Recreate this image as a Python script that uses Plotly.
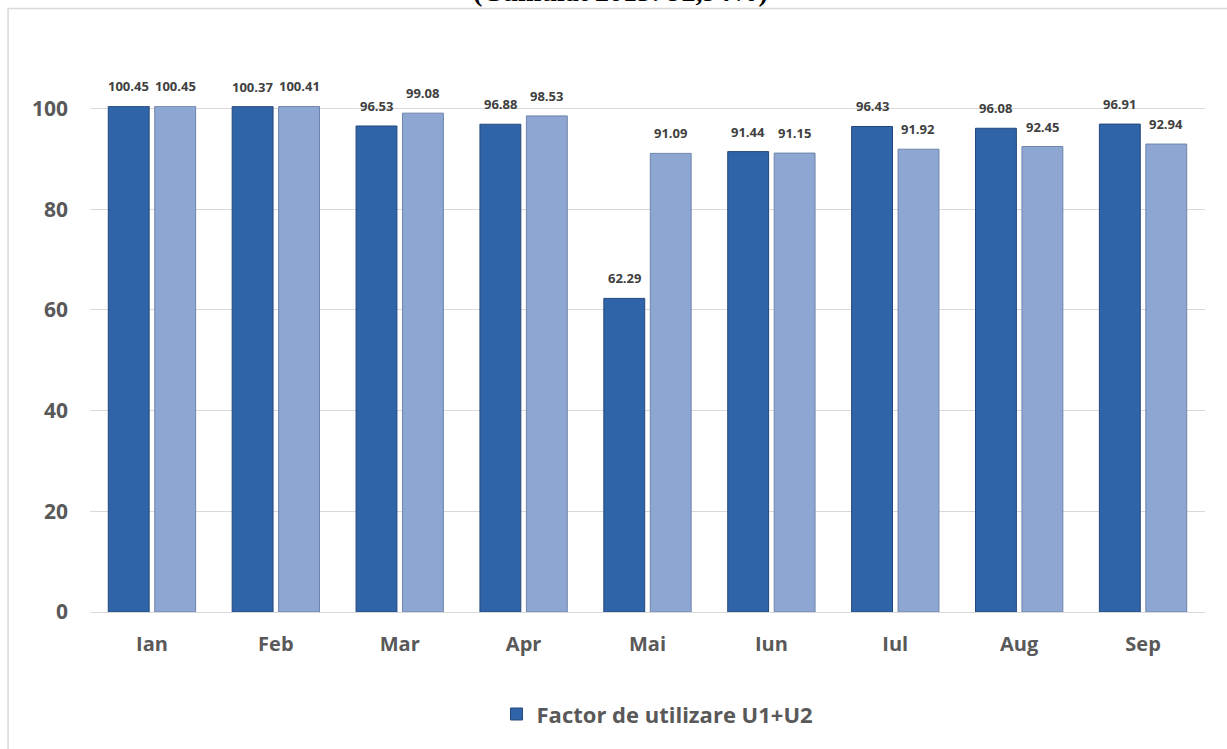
"""Factor de utilizare U1+U2 - bar chart by month."""
import plotly.graph_objects as go

luni = ['Ian', 'Feb', 'Mar', 'Apr', 'Mai', 'Iun', 'Iul', 'Aug', 'Sep']
factor_lunar = [100.45, 100.37, 96.53, 96.88, 62.29, 91.44, 96.43, 96.08, 96.91]
factor_cumulat = [100.45, 100.41, 99.08, 98.53, 91.09, 91.15, 91.92, 92.45, 92.94]
y_ticks = [0, 20, 40, 60, 80, 100]

FONT = 'Open Sans, Lato, sans-serif'

fig = go.Figure()
fig.add_trace(go.Bar(
    x=luni, y=factor_lunar, name='Factor de utilizare U1+U2',
    marker=dict(color='#3064A8', line=dict(color='#24487C', width=1)),
))
fig.add_trace(go.Bar(
    x=luni, y=factor_cumulat, name='Cumulat', showlegend=False,
    marker=dict(color='#8DA6D2', line=dict(color='#6F84AA', width=1)),
))

# data labels above every bar
annotations = []
for serie, shift in ((factor_lunar, -23.2), (factor_cumulat, 23.2)):
    for luna, val in zip(luni, serie):
        annotations.append(dict(
            x=luna, y=val, xref='x', yref='y', text=f'{val:.2f}',
            showarrow=False, xshift=shift, yshift=9, yanchor='bottom',
            font=dict(family=FONT, size=13, color='#404040', weight='bold'),
        ))

# title of the original slide, cut by the top edge of the picture
annotations.append(dict(
    x=0.476, y=1.1925, xref='paper', yref='paper', yanchor='bottom',
    text='<b>(Cumulat 2015: 92,94%)</b>', showarrow=False,
    font=dict(family='Liberation Serif, Times New Roman, serif', size=28, color='black'),
))

fig.layout = {
    'width': 1227,
    'height': 749,
    'margin': dict(l=90, r=22, t=105.5, b=137),
    'paper_bgcolor': 'white',
    'plot_bgcolor': 'white',
    'barmode': 'group',
    'bargap': 0.25,
    'bargroupgap': 0.12,
    'xaxis': {
        'tickfont': dict(family=FONT, size=20, color='#595959', weight='bold'),
        'showline': True, 'linecolor': '#D9D9D9', 'linewidth': 1,
        'ticks': '', 'showgrid': False, 'ticklabelstandoff': 14,
    },
    'yaxis': {
        'range': [0, 100.5],
        'tickvals': y_ticks,
        'tickfont': dict(family=FONT, size=21, color='#595959', weight='bold'),
        'showgrid': True, 'gridcolor': '#D9D9D9', 'gridwidth': 1,
        'zeroline': False, 'ticks': '', 'ticklabelstandoff': 21,
    },
    'legend': dict(
        orientation='h', x=0.509, xanchor='center', y=-0.202, yanchor='middle',
        font=dict(family=FONT, size=22, color='#595959', weight='bold'),
    ),
    'annotations': annotations,
    'shapes': [
        dict(type='line', xref='paper', yref='paper', x0=-0.0735, x1=1.2,
             y0=1.1925, y1=1.1925, line=dict(color='#D9D9D9', width=1.5)),
        dict(type='line', xref='paper', yref='paper', x0=-0.0735, x1=-0.0735,
             y0=1.1925, y1=-0.5, line=dict(color='#D9D9D9', width=1.5)),
    ],
}

# page without the default body margin, so the chart fills the window
fig.write_html('out.html', config={'displayModeBar': False},
               post_script="document.body.style.margin = '0';")
